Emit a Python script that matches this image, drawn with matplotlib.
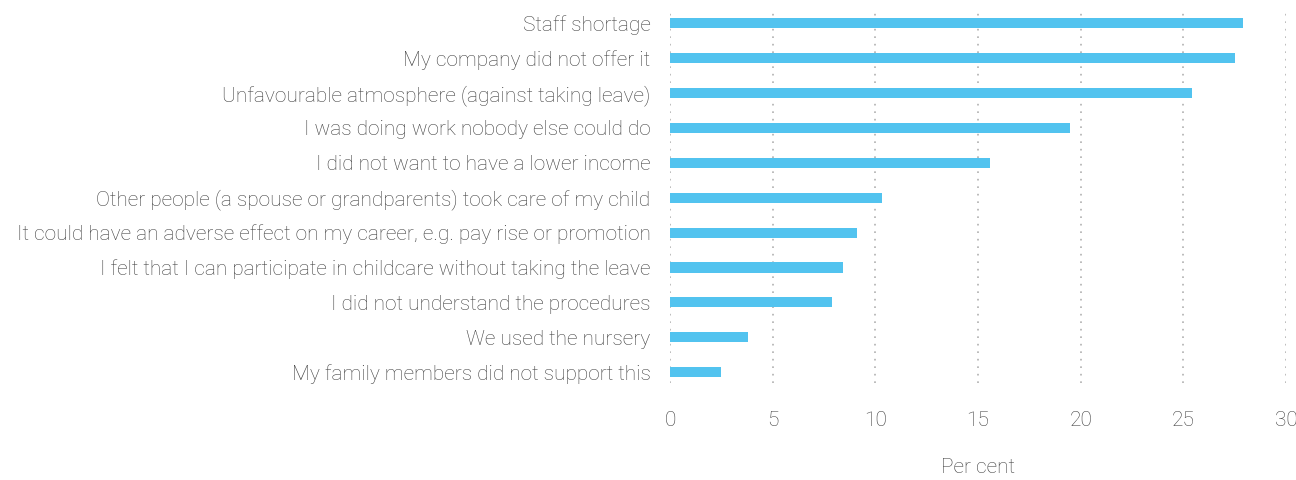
import matplotlib
matplotlib.use("Agg")
import matplotlib.pyplot as plt

# reasons, bottom to top
reasons = [
    "My family members did not support this",
    "We used the nursery",
    "I did not understand the procedures",
    "I felt that I can participate in childcare without taking the leave",
    "It could have an adverse effect on my career, e.g. pay rise or promotion",
    "Other people (a spouse or grandparents) took care of my child",
    "I did not want to have a lower income",
    "I was doing work nobody else could do",
    "Unfavourable atmosphere (against taking leave)",
    "My company did not offer it",
    "Staff shortage",
]
values = [2.5, 3.8, 7.9, 8.4, 9.1, 10.3, 15.6, 19.5, 25.4, 27.5, 27.9]
xticks = [0, 5, 10, 15, 20, 25, 30]

plt.rcParams['font.family'] = ['Roboto', 'DejaVu Sans']
plt.rcParams['font.weight'] = 'light'
plt.rcParams['axes.labelweight'] = 'light'

txt = '#404040'
fig = plt.figure(figsize=(12.96, 4.8), dpi=100)
ax = fig.add_axes([0.517, 0.202, 0.4753, 0.781])

ypos = list(range(len(reasons)))
ax.barh(ypos, values, height=0.29, color='#52c3ef', zorder=3)

ax.set_xlim(0, 30)
ax.set_ylim(-0.31, len(reasons) - 1 + 0.43)
ax.set_xticks(xticks)
ax.set_xticklabels([str(t) for t in xticks])
ax.set_yticks(ypos)
ax.set_yticklabels(reasons)

for t in xticks:
    ax.axvline(t, color='#b0b0b0', linestyle=(0, (1, 3.5)), linewidth=1.2, zorder=1)

for s in ax.spines.values():
    s.set_visible(False)
ax.tick_params(axis='both', length=0, colors=txt, labelsize=15)
ax.tick_params(axis='x', pad=20)
ax.tick_params(axis='y', pad=14)

ax.set_xlabel("Per cent", color=txt, fontsize=15, labelpad=20)

fig.savefig("out.png", dpi=100)
